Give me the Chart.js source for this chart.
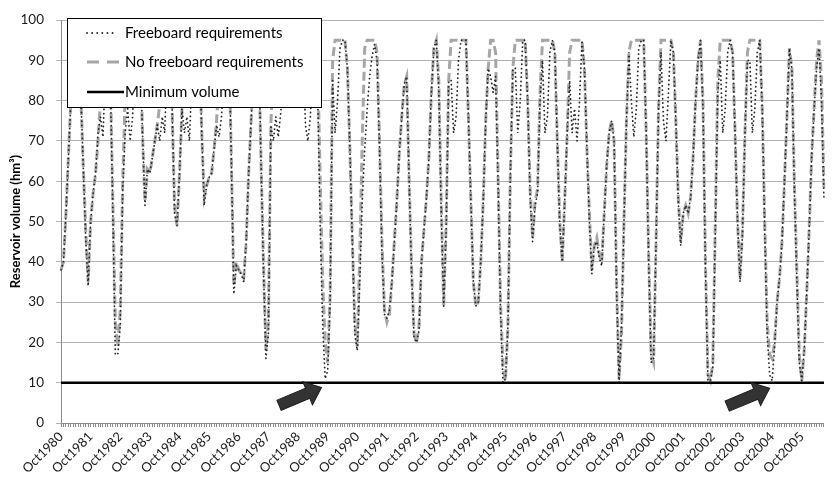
<!DOCTYPE html>
<html>
<head>
<meta charset="utf-8">
<script src="https://cdn.jsdelivr.net/npm/chart.js@4.4.1/dist/chart.umd.min.js"></script>
<style>
  html, body { margin: 0; padding: 0; background: #fff; }
  canvas { display: block; }
</style>
</head>
<body>
<canvas id="volumeChart" width="837" height="485"></canvas>
<script>
// Monthly reservoir volume (hm3), one line per water year (Oct..Sep), Oct1980 - Jul2006
const freeboard = [
  38, 40, 52, 66, 80, 92, 95, 95, 82, 64, 46, 34,
  50, 57, 62, 72, 76, 71, 88, 95, 85, 52, 17, 17,
  24, 58, 72, 78, 70, 76, 90, 95, 95, 72, 54, 63,
  62, 66, 70, 74, 70, 76, 72, 90, 95, 78, 52, 49,
  62, 78, 72, 76, 70, 85, 95, 95, 95, 72, 54, 59,
  61, 62, 68, 74, 71, 76, 88, 95, 95, 65, 32, 39,
  38, 37, 35, 45, 62, 75, 88, 95, 95, 65, 38, 16,
  22, 74, 70, 76, 71, 77, 88, 95, 95, 90, 85, 82,
  82, 88, 95, 74, 70, 76, 90, 95, 80, 48, 24, 11,
  13, 30, 85, 72, 80, 93, 95, 95, 88, 68, 45, 22,
  18, 35, 55, 68, 78, 86, 91, 94, 90, 68, 42, 27,
  26, 28, 35, 45, 55, 67, 76, 84, 86, 60, 37, 21,
  20, 23, 40, 48, 56, 66, 82, 93, 95, 83, 52, 29,
  48, 85, 85, 72, 76, 90, 95, 95, 95, 76, 55, 35,
  29, 30, 40, 55, 75, 88, 86, 82, 86, 60, 28, 10,
  11, 24, 62, 88, 88, 72, 80, 95, 95, 80, 56, 45,
  54, 57, 80, 90, 72, 76, 92, 95, 92, 70, 49, 40,
  55, 72, 85, 72, 78, 70, 80, 95, 88, 68, 50, 37,
  44, 45, 41, 39, 52, 64, 72, 75, 70, 33, 10, 24,
  50, 75, 92, 80, 71, 78, 93, 95, 95, 72, 40, 15,
  16, 45, 78, 92, 75, 70, 82, 95, 92, 75, 55, 44,
  52, 54, 52, 56, 66, 80, 90, 95, 78, 38, 10.5, 10.5,
  14, 48, 82, 90, 72, 78, 92, 95, 92, 72, 50, 35,
  47, 72, 90, 90, 72, 78, 92, 95, 78, 48, 22, 12,
  10.5, 19, 30, 36, 45, 60, 76, 93, 88, 58, 36, 15,
  10.5, 18, 32, 48, 66, 78, 88, 93, 80, 56
];

const noFreeboard = [
  38, 40, 52, 66, 80, 92, 95, 95, 82, 64, 48, 35,
  50, 57, 62, 70, 80, 92, 95, 95, 85, 55, 25, 19,
  28, 60, 82, 95, 95, 95, 95, 95, 95, 72, 55, 63,
  62, 66, 70, 74, 79, 88, 95, 95, 95, 78, 54, 49,
  62, 78, 95, 95, 95, 95, 95, 95, 95, 72, 56, 59,
  61, 62, 68, 75, 85, 95, 95, 95, 95, 65, 34, 40,
  38, 37, 36, 45, 62, 75, 88, 95, 95, 65, 40, 18,
  25, 74, 90, 95, 95, 95, 95, 95, 95, 90, 85, 82,
  82, 90, 95, 95, 95, 95, 95, 95, 88, 60, 35, 20,
  15, 32, 90, 95, 95, 95, 95, 95, 88, 68, 45, 25,
  19, 42, 70, 93, 95, 95, 95, 95, 92, 70, 45, 28,
  25, 27, 35, 45, 55, 67, 76, 84, 86, 60, 38, 22,
  20, 24, 40, 48, 56, 66, 82, 93, 95, 85, 55, 29,
  50, 85, 95, 95, 95, 95, 95, 95, 95, 76, 55, 35,
  29, 30, 40, 55, 75, 88, 95, 95, 92, 62, 30, 14,
  10.5, 24, 62, 88, 95, 95, 95, 95, 95, 80, 58, 46,
  55, 58, 82, 95, 95, 95, 95, 95, 92, 70, 50, 40,
  55, 72, 92, 95, 95, 95, 95, 95, 88, 68, 52, 38,
  44, 46, 42, 40, 52, 64, 72, 75, 70, 35, 11, 22,
  50, 75, 92, 95, 95, 95, 95, 95, 95, 72, 42, 17,
  15, 45, 78, 95, 95, 95, 95, 95, 92, 75, 56, 45,
  52, 54, 52, 56, 66, 80, 90, 95, 80, 40, 12, 10.5,
  15, 50, 85, 95, 95, 95, 95, 95, 92, 72, 50, 36,
  48, 72, 92, 95, 95, 95, 95, 95, 78, 50, 25, 17,
  16, 20, 30, 36, 45, 60, 76, 93, 88, 60, 38, 17,
  10.5, 18, 32, 48, 66, 78, 90, 95, 85, 58
];

const minimumVolume = 10;
const monthNames = ['Oct', 'Nov', 'Dec', 'Jan', 'Feb', 'Mar', 'Apr', 'May', 'Jun', 'Jul', 'Aug', 'Sep'];
const firstYear = 1980;
const yTicks = [0, 10, 20, 30, 40, 50, 60, 70, 80, 90, 100];

// arrows point at the two lowest freeboard minima (month index, volume at the tip)
const arrowTips = [
  { month: 105.5, volume: 8.8 },
  { month: 287.0, volume: 8.6 }
];

const months = freeboard.map((v, i) => monthNames[i % 12] + (firstYear + Math.floor((i + 9) / 12)));
const minimumLine = months.map(() => minimumVolume);

const FONT = 'Lato, "Open Sans", sans-serif';

const boxLegend = {
    id: 'boxLegend',
    afterDatasetsDraw(chart) {
        const ctx = chart.ctx;
        const { x, y } = chart.scales;

        // arrows
        const ang = Math.atan2(-17.5, 42);
        arrowTips.forEach(a => {
            ctx.save();
            ctx.translate(x.getPixelForValue(a.month), y.getPixelForValue(a.volume));
            ctx.rotate(ang);
            ctx.beginPath();
            ctx.moveTo(0, 0);
            ctx.lineTo(-15, -12.5);
            ctx.lineTo(-15, -5.5);
            ctx.lineTo(-46, -5.5);
            ctx.lineTo(-46, 5.5);
            ctx.lineTo(-15, 5.5);
            ctx.lineTo(-15, 12.5);
            ctx.closePath();
            ctx.fillStyle = '#333333';
            ctx.fill();
            ctx.strokeStyle = '#1e1e1e';
            ctx.lineWidth = 1;
            ctx.stroke();
            ctx.restore();
        });

        // legend box
        ctx.save();
        ctx.fillStyle = '#ffffff';
        ctx.fillRect(67, 18, 255, 89);
        ctx.strokeStyle = '#000000';
        ctx.lineWidth = 1;
        ctx.strokeRect(67.5, 18.5, 254, 89);

        const rows = [
            { y: 33, end: 117, dash: [0.1, 5], cap: 'round' },
            { y: 62, end: 120, dash: [12, 8], cap: 'butt' },
            { y: 92, end: 124, dash: [], cap: 'butt' }
        ];
        chart.data.datasets.forEach((ds, i) => {
            const r = rows[i];
            ctx.beginPath();
            ctx.setLineDash(r.dash);
            ctx.lineCap = r.cap;
            ctx.lineWidth = ds.borderWidth;
            ctx.strokeStyle = ds.borderColor;
            ctx.moveTo(87, r.y);
            ctx.lineTo(r.end, r.y);
            ctx.stroke();
            ctx.setLineDash([]);
            ctx.fillStyle = '#000000';
            ctx.font = '15px ' + FONT;
            ctx.textBaseline = 'middle';
            ctx.fillText(ds.label, 125, r.y);
        });
        ctx.restore();
    }
};

const volumeChart = new Chart(document.getElementById('volumeChart').getContext('2d'), {
    type: 'line',
    data: {
        labels: months,
        datasets: [{
            label: 'Freeboard requirements',
            data: freeboard,
            borderColor: '#262626',
            borderWidth: 1.8,
            borderDash: [0.1, 4.2],
            borderCapStyle: 'round',
            pointRadius: 0,
            tension: 0,
            order: 1
        }, {
            label: 'No freeboard requirements',
            data: noFreeboard,
            borderColor: '#a6a6a6',
            borderWidth: 3,
            borderDash: [9, 4],
            pointRadius: 0,
            tension: 0,
            order: 2
        }, {
            label: 'Minimum volume',
            data: minimumLine,
            borderColor: '#000000',
            borderWidth: 2.5,
            pointRadius: 0,
            order: 0
        }]
    },
    options: {
        responsive: false,
        animation: false,
        devicePixelRatio: 1,
        layout: { padding: { top: 4, right: 0, left: 0, bottom: 0 } },
        plugins: {
            legend: { display: false },
            tooltip: { enabled: false }
        },
        scales: {
            x: {
                offset: false,
                grid: { drawOnChartArea: false, drawTicks: true, tickLength: 4, color: '#8c8c8c' },
                border: { color: '#8c8c8c' },
                ticks: {
                    autoSkip: false,
                    minRotation: 45,
                    maxRotation: 45,
                    padding: 2,
                    color: '#1a1a1a',
                    font: { family: FONT, size: 13 },
                    callback: (v, i) => (i % 12 === 0 ? months[i] : '')
                },
                afterFit: s => { s.height = 62; }
            },
            y: {
                min: 0,
                max: 100,
                afterBuildTicks: s => { s.ticks = yTicks.map(v => ({ value: v })); },
                grid: { color: '#b3b3b3', tickLength: 5 },
                border: { color: '#8c8c8c' },
                ticks: { padding: 12, color: '#1a1a1a', font: { family: FONT, size: 13.5 } },
                title: {
                    display: true,
                    text: 'Reservoir volume (hm³)',
                    color: '#000000',
                    font: { family: FONT, size: 13, weight: 'bold' },
                    padding: { top: 8, bottom: 0 }
                },
                afterFit: s => { s.width = 61; }
            }
        }
    },
    plugins: [boxLegend]
});
</script>
</body>
</html>
